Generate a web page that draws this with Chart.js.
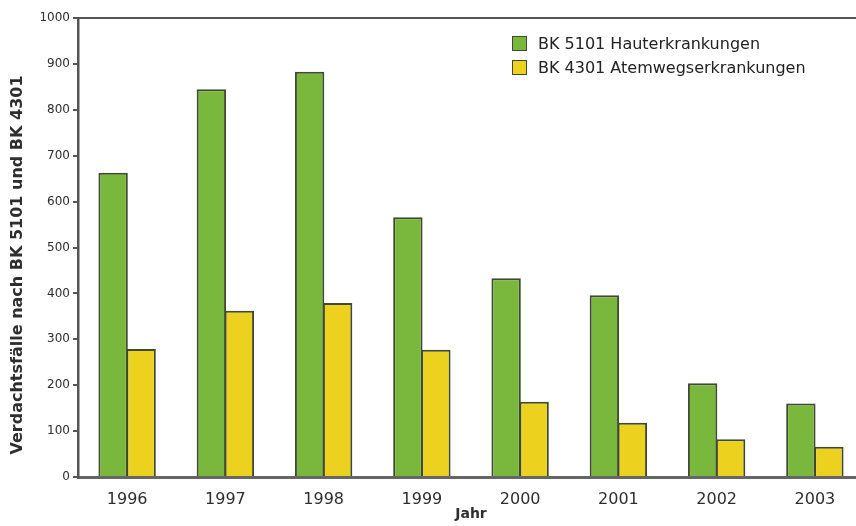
<!DOCTYPE html>
<html>
<head>
<meta charset="utf-8">
<script src="https://cdn.jsdelivr.net/npm/chart.js@4/dist/chart.umd.min.js"></script>
<style>
  html, body { margin: 0; padding: 0; background: #fff; overflow: hidden; }
  #wrap { position: relative; width: 870px; height: 526px; }
  #legend { position: absolute; left: 512px; top: 31px; font: 16px "DejaVu Sans", sans-serif; color: #222; }
  .lg-item { display: flex; align-items: center; height: 24px; }
  .lg-box { width: 13px; height: 13px; border: 1.5px solid #3f4a30; margin-right: 11px; }
</style>
</head>
<body>
<div id="wrap">
  <canvas id="chart" width="870" height="526"></canvas>
  <div id="legend"></div>
</div>
<script>
// Data
const YEARS = ['1996', '1997', '1998', '1999', '2000', '2001', '2002', '2003'];
const SKIN_LABEL = 'BK 5101 Hauterkrankungen';
const SKIN = [663, 845, 883, 566, 433, 396, 204, 160];
const AIRWAY_LABEL = 'BK 4301 Atemwegserkrankungen';
const AIRWAY = [279, 362, 379, 277, 164, 118, 82, 66];
const Y_TICKS = [0, 100, 200, 300, 400, 500, 600, 700, 800, 900, 1000];
const Y_TITLE = 'Verdachtsfälle nach BK 5101 und BK 4301';

const COLORS = {
  green:  '#79b83c',
  yellow: '#ecd21f',
  edge:   '#3f4a30',
  axis:   '#555555',
  text:   '#2e2e2e',
};

const FONT = '"DejaVu Sans", sans-serif';

// y title drawn by hand, it sits a bit below the axis middle in the original
const yTitlePlugin = {
  id: 'yTitle',
  afterDraw(chart) {
    const ctx = chart.ctx;
    ctx.save();
    ctx.translate(18, 265);
    ctx.rotate(-Math.PI / 2);
    ctx.font = `bold 16px ${FONT}`;
    ctx.fillStyle = COLORS.text;
    ctx.textAlign = 'center';
    ctx.textBaseline = 'middle';
    ctx.fillText(Y_TITLE, 0, 0);
    ctx.restore();
  },
};

const barStyle = {
  borderColor: COLORS.edge,
  borderWidth: 2,
  categoryPercentage: 0.57,
  barPercentage: 1.05,
};

const chart = new Chart(document.getElementById('chart'), {
  type: 'bar',
  data: {
    labels: YEARS,
    datasets: [
      { label: SKIN_LABEL, data: SKIN, backgroundColor: COLORS.green, ...barStyle },
      { label: AIRWAY_LABEL, data: AIRWAY, backgroundColor: COLORS.yellow, ...barStyle },
    ],
  },
  options: {
    responsive: false,
    animation: false,
    layout: { padding: { left: 0, top: 18, right: 6, bottom: 0 } },
    plugins: { legend: { display: false }, tooltip: { enabled: false } },
    scales: {
      x: {
        position: 'bottom',
        grid: { display: false },
        border: { display: true, color: '#666', width: 3 },
        ticks: { color: COLORS.text, font: { family: FONT, size: 16 }, padding: 5 },
        title: {
          display: true, text: 'Jahr', color: COLORS.text,
          font: { family: FONT, size: 14, weight: 'bold' },
          padding: { top: 0, bottom: 3 },
        },
        afterFit: s => { s.height = 49; },
      },
      xTop: {
        type: 'category',
        labels: YEARS,
        position: 'top',
        grid: { display: false },
        border: { display: true, color: COLORS.axis, width: 2 },
        ticks: { display: false },
        afterFit: s => { s.height = 0; },
      },
      y: {
        min: 0, max: 1000,
        afterBuildTicks: s => { s.ticks = Y_TICKS.map(v => ({ value: v })); },
        grid: { display: true, drawOnChartArea: false, drawTicks: true, tickLength: 5, color: COLORS.axis, lineWidth: 2 },
        border: { display: true, color: COLORS.axis, width: 2.5 },
        ticks: { color: COLORS.text, font: { family: FONT, size: 12 }, padding: 3, callback: v => String(v) },
        afterFit: s => { s.width = 78; },
      },
    },
  },
  plugins: [yTitlePlugin],
});

// Legend in the upper right of the plot, built from the datasets
document.getElementById('legend').innerHTML = chart.data.datasets.map(ds =>
  `<div class="lg-item"><div class="lg-box" style="background:${ds.backgroundColor}"></div>${ds.label}</div>`
).join('');
</script>
</body>
</html>
